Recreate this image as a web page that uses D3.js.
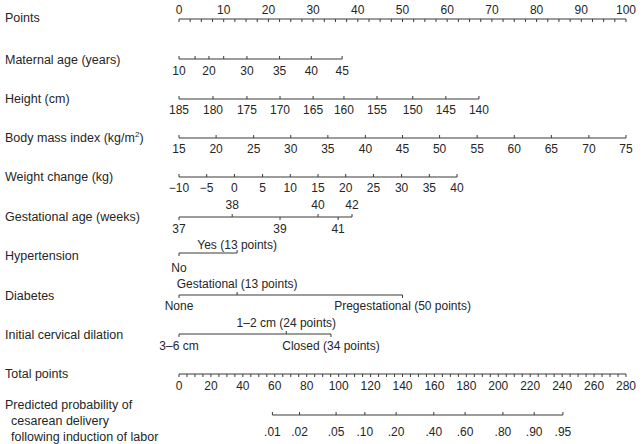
<!DOCTYPE html>
<html>
<head>
<meta charset="utf-8">
<script src="https://cdn.jsdelivr.net/npm/d3@7"></script>
<style>
  body { margin: 0; background: #fff; }
  text { font-family: "Liberation Sans", Arial, sans-serif; fill: #262626; }
</style>
</head>
<body>
<div id="chart"></div>
<script>
///////////// Data //////////////
// every row: tick values and the points they score
var pointsTicks = d3.range(0, 100.01, 2.5);
var pointsLabels = d3.range(0, 101, 10);

var ageValues = [10, 15, 20, 25, 30, 35, 40, 45];
var agePoints = [0, 3.6, 6.7, 10, 15.2, 22.5, 29.6, 36.5];
var ageShown = [10, 20, 30, 35, 40, 45];

var heightValues = [185, 180, 175, 170, 165, 160, 155, 150, 145, 140];
var heightPoints = [0, 7.6, 15.2, 22.6, 30.0, 36.9, 44.3, 52.3, 59.7, 67.1];

var bmiValues = [15, 20, 25, 30, 35, 40, 45, 50, 55, 60, 65, 70, 75];
var bmiPoints = [0, 8.3, 16.7, 25, 33.3, 41.7, 50, 58.3, 66.7, 75, 83.3, 91.7, 100];

var weightValues = [-10, -5, 0, 5, 10, 15, 20, 25, 30, 35, 40];
var weightPoints = [0, 6.2, 12.4, 18.7, 24.9, 31.1, 37.3, 43.5, 49.8, 56, 62.2];

var gestValues = [37, 38, 39, 40, 41, 42];
var gestPoints = [0, 11.9, 22.6, 31.1, 35.6, 38.7];

var hyperLabels = ['No', 'Yes (13 points)'];
var hyperPoints = [0, 13];

var diabetesLabels = ['None', 'Gestational (13 points)', 'Pregestational (50 points)'];
var diabetesPoints = [0, 13, 50];

var dilationLabels = ['3\u20136 cm', '1\u20132 cm (24 points)', 'Closed (34 points)'];
var dilationPoints = [0, 24, 34];

var totalTicks = d3.range(0, 280.01, 5);
var totalLabels = d3.range(0, 281, 20);

var probLabels = ['.01', '.02', '.05', '.10', '.20', '.40', '.60', '.80', '.90', '.95'];
var probTotal = [58.5, 75.5, 98.4, 116.4, 136.0, 159.6, 179.2, 202.9, 222.5, 240.5];

///////////// Layout //////////////
var W = 642, H = 444;
var x0 = 179, x1 = 626;
var pts = d3.scaleLinear().domain([0, 100]).range([x0, x1]);
var tot = d3.scaleLinear().domain([0, 280]).range([x0, x1]);
var tick = 3;
var ink = '#3a3a3a';

var svg = d3.select('#chart').append('svg')
  .attr('width', W).attr('height', H);

function rowLabel(y, txt) {
  return svg.append('text').attr('x', 5).attr('y', y)
    .attr('font-size', 12.5).text(txt);
}

function hline(y, xa, xb) {
  svg.append('line').attr('x1', xa).attr('x2', xb).attr('y1', y).attr('y2', y)
    .attr('stroke', ink).attr('stroke-width', 1.1);
}

function ticks(y, xs, dir) {
  svg.append('g').selectAll('line').data(xs).enter().append('line')
    .attr('x1', d => d).attr('x2', d => d)
    .attr('y1', y).attr('y2', y + dir * tick)
    .attr('stroke', ink).attr('stroke-width', 1);
}

function labels(y, xs, txts) {
  svg.append('g').selectAll('text').data(xs).enter().append('text')
    .attr('x', d => d).attr('y', y)
    .attr('text-anchor', 'middle').attr('font-size', 12)
    .text((d, i) => txts[i]);
}

///////////// Points //////////////
rowLabel(22, 'Points');
hline(19, pts(0), pts(100));
ticks(19, pointsTicks.map(pts), 1);
labels(14, pointsLabels.map(pts), pointsLabels);

///////////// Maternal age //////////////
rowLabel(64, 'Maternal age (years)');
hline(59, pts(agePoints[0]), pts(d3.max(agePoints)));
ticks(59, agePoints.map(pts), -1);
var ageIdx = ageValues.map((v, i) => i).filter(i => ageShown.indexOf(ageValues[i]) >= 0);
labels(75, ageIdx.map(i => pts(agePoints[i])), ageIdx.map(i => ageValues[i]));

///////////// Height //////////////
rowLabel(103, 'Height (cm)');
hline(99, pts(0), pts(d3.max(heightPoints)));
ticks(99, heightPoints.map(pts), -1);
labels(114, heightPoints.map(pts), heightValues);

///////////// BMI //////////////
var bmiLab = rowLabel(142, 'Body mass index (kg/m');
bmiLab.append('tspan').attr('font-size', 8).attr('dy', -5).text('2');
bmiLab.append('tspan').attr('dy', 5).text(')');
hline(138, pts(0), pts(100));
ticks(138, bmiPoints.map(pts), -1);
labels(153, bmiPoints.map(pts), bmiValues);

///////////// Weight change //////////////
rowLabel(181, 'Weight change (kg)');
hline(177, pts(0), pts(d3.max(weightPoints)));
ticks(177, weightPoints.map(pts), -1);
labels(192, weightPoints.map(pts), weightValues.map(v => v < 0 ? '\u2212' + (-v) : v));

///////////// Gestational age //////////////
rowLabel(221, 'Gestational age (weeks)');
hline(217, pts(0), pts(d3.max(gestPoints)));
var gUp = [1, 3, 5], gDown = [0, 2, 4];
ticks(217, gUp.map(i => pts(gestPoints[i])), -1);
ticks(217, gDown.map(i => pts(gestPoints[i])), 1);
labels(209, gUp.map(i => pts(gestPoints[i])), gUp.map(i => gestValues[i]));
labels(233, gDown.map(i => pts(gestPoints[i])), gDown.map(i => gestValues[i]));

///////////// Hypertension //////////////
rowLabel(260, 'Hypertension');
hline(253, pts(0), pts(hyperPoints[1]));
ticks(253, [pts(hyperPoints[0])], 1);
ticks(253, [pts(hyperPoints[1])], -1);
labels(272, [pts(hyperPoints[0])], [hyperLabels[0]]);
labels(249, [pts(hyperPoints[1])], [hyperLabels[1]]);

///////////// Diabetes //////////////
rowLabel(300, 'Diabetes');
hline(295, pts(0), pts(diabetesPoints[2]));
ticks(295, [pts(diabetesPoints[0]), pts(diabetesPoints[2])], 1);
ticks(295, [pts(diabetesPoints[1])], -1);
labels(288, [pts(diabetesPoints[1])], [diabetesLabels[1]]);
labels(310, [pts(diabetesPoints[0]), pts(diabetesPoints[2])], [diabetesLabels[0], diabetesLabels[2]]);

///////////// Cervical dilation //////////////
rowLabel(339, 'Initial cervical dilation');
hline(334, pts(0), pts(dilationPoints[2]));
ticks(334, [pts(dilationPoints[0]), pts(dilationPoints[2])], 1);
ticks(334, [pts(dilationPoints[1])], -1);
labels(327, [pts(dilationPoints[1])], [dilationLabels[1]]);
labels(350, [pts(dilationPoints[0]), pts(dilationPoints[2])], [dilationLabels[0], dilationLabels[2]]);

///////////// Total points //////////////
rowLabel(378, 'Total points');
hline(374, tot(0), tot(280));
ticks(374, totalTicks.map(tot), 1);
labels(390, totalLabels.map(tot), totalLabels);

///////////// Predicted probability //////////////
rowLabel(409, 'Predicted probability of');
svg.append('text').attr('x', 11).attr('y', 425).attr('font-size', 12.5).text('cesarean delivery');
svg.append('text').attr('x', 11).attr('y', 441).attr('font-size', 12.5).text('following induction of labor');
hline(415, tot(probTotal[0]), tot(d3.max(probTotal)));
ticks(415, probTotal.map(tot), -1);
labels(436, probTotal.map(tot), probLabels);
</script>
</body>
</html>
